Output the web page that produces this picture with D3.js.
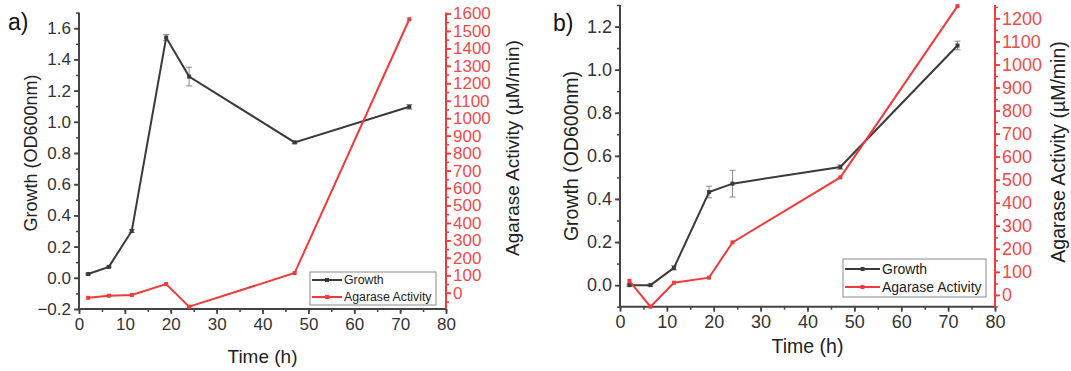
<!DOCTYPE html>
<html><head><meta charset="utf-8">
<script src="https://cdn.jsdelivr.net/npm/d3@7"></script>
<style>
html,body{margin:0;padding:0;background:#fff;}
svg text{font-family:"Liberation Sans",Arial,sans-serif;}
</style></head>
<body>
<svg id="chart" width="1071" height="371"></svg>
<script>
// ---- data ----
const timeA = [2, 6.5, 11.5, 19, 24, 47, 72];
const growthA = [0.024, 0.07, 0.30, 1.54, 1.29, 0.868, 1.096];
const growthErrA = [0.005, 0.005, 0.01, 0.02, 0.06, 0.008, 0.015];
const activityA = [-29, -17, -13, 50, -80, 113, 1567];

const timeB = [2, 6.5, 11.5, 19, 24, 47, 72];
const growthB = [0, 0, 0.08, 0.432, 0.471, 0.548, 1.112];
const growthErrB = [0.005, 0.005, 0.01, 0.027, 0.062, 0.01, 0.02];
const activityB = [61, -51, 53, 75, 228, 510, 1253];

const xTicks = [0, 10, 20, 30, 40, 50, 60, 70, 80];
const leftTicksA = [-0.2, 0, 0.2, 0.4, 0.6, 0.8, 1.0, 1.2, 1.4, 1.6];
const rightTicksA = d3.range(0, 1601, 100);
const leftTicksB = [0, 0.2, 0.4, 0.6, 0.8, 1.0, 1.2];
const rightTicksB = d3.range(0, 1201, 100);
const seriesNames = ["Growth", "Agarase Activity"];

const DARK = "#3a3a3a", RED = "#f23a3a", REDTXT = "#ef4b4b", AXIS = "#444";
const svg = d3.select("#chart");

function panel(o) {
  const g = svg.append("g");
  const x = d3.scaleLinear().domain([0, 80]).range([o.x0, o.x1]);
  const yL = d3.scaleLinear().domain(o.yLdom).range([o.yb, o.yt]);
  const yR = d3.scaleLinear().domain(o.yRdom).range([o.yb, o.yt]);

  // x axis
  const xa = g.append("g").attr("transform", `translate(0,${o.yb})`);
  xa.call(d3.axisBottom(x).tickValues(d3.range(0, 81, 5)).tickSize(3).tickFormat(""))
    .call(s => s.select(".domain").remove()).selectAll("line").attr("stroke", AXIS).attr("stroke-width", 1.5);
  xa.append("g").call(d3.axisBottom(x).tickValues(xTicks).tickSize(5).tickPadding(4).tickFormat(d3.format("d")))
    .call(s => { s.select(".domain").remove(); s.selectAll("line").attr("stroke", AXIS).attr("stroke-width", 1.8);
      s.selectAll("text").attr("fill", "#333").attr("font-size", o.tickFs).attr("font-family", "Liberation Sans, Arial"); });
  g.append("line").attr("x1", o.x0).attr("x2", o.x1).attr("y1", o.yb).attr("y2", o.yb).attr("stroke", AXIS).attr("stroke-width", 2);

  // left axis
  const la = g.append("g").attr("transform", `translate(${o.x0},0)`);
  la.append("g").call(d3.axisLeft(yL).tickValues(o.leftMinor).tickSize(3).tickFormat(""))
    .call(s => { s.select(".domain").remove(); s.selectAll("line").attr("stroke", AXIS).attr("stroke-width", 1.5); });
  la.append("g").call(d3.axisLeft(yL).tickValues(o.leftTicks).tickSize(5).tickPadding(3).tickFormat(d3.format(".1f")))
    .call(s => { s.select(".domain").remove(); s.selectAll("line").attr("stroke", AXIS).attr("stroke-width", 1.8);
      s.selectAll("text").attr("fill", "#333").attr("font-size", o.tickFs).attr("font-family", "Liberation Sans, Arial"); });
  g.append("line").attr("x1", o.x0).attr("x2", o.x0).attr("y1", o.yb).attr("y2", o.yt).attr("stroke", AXIS).attr("stroke-width", 2);

  // right axis
  const ra = g.append("g").attr("transform", `translate(${o.x1},0)`);
  ra.append("g").call(d3.axisRight(yR).tickValues(o.rightMinor).tickSize(3).tickFormat(""))
    .call(s => { s.select(".domain").remove(); s.selectAll("line").attr("stroke", RED).attr("stroke-width", 1.5); });
  ra.append("g").call(d3.axisRight(yR).tickValues(o.rightTicks).tickSize(5).tickPadding(2).tickFormat(d3.format("d")))
    .call(s => { s.select(".domain").remove(); s.selectAll("line").attr("stroke", RED).attr("stroke-width", 1.8);
      s.selectAll("text").attr("fill", REDTXT).attr("font-size", o.tickFs).attr("font-family", "Liberation Sans, Arial"); });
  g.append("line").attr("x1", o.x1).attr("x2", o.x1).attr("y1", o.yb).attr("y2", o.yt).attr("stroke", RED).attr("stroke-width", 2);

  // axis titles
  g.append("text").attr("x", (o.x0 + o.x1) / 2).attr("y", o.xTitleY).attr("text-anchor", "middle")
    .attr("font-size", o.titleFs).attr("fill", "#222").text("Time (h)");
  g.append("text").attr("transform", `translate(${o.lTitleX},${o.lTitleY}) rotate(-90)`).attr("text-anchor", "middle")
    .attr("font-size", o.lTitleFs).attr("fill", "#222").text("Growth (OD600nm)");
  g.append("text").attr("transform", `translate(${o.rTitleX},${o.rTitleY}) rotate(-90)`).attr("text-anchor", "middle")
    .attr("font-size", o.rTitleFs).attr("fill", "#222").text("Agarase Activity (µM/min)");

  // panel label
  g.append("text").attr("x", o.labX).attr("y", o.labY).attr("font-family", "Open Sans, Liberation Sans")
    .attr("font-size", 23).attr("fill", "#111").text(o.label);

  // data
  const gd = o.time.map((t, i) => ({ t, v: o.growth[i], e: o.err[i] }));
  const ad = o.time.map((t, i) => ({ t, v: o.activity[i] }));

  // error bars
  const eb = g.append("g").attr("stroke", "#8a8a8a").attr("stroke-width", 1);
  gd.forEach(d => {
    const xx = x(d.t), y1 = yL(d.v - d.e), y2 = yL(d.v + d.e);
    eb.append("line").attr("x1", xx).attr("x2", xx).attr("y1", y1).attr("y2", y2);
    eb.append("line").attr("x1", xx - 3).attr("x2", xx + 3).attr("y1", y1).attr("y2", y1);
    eb.append("line").attr("x1", xx - 3).attr("x2", xx + 3).attr("y1", y2).attr("y2", y2);
  });

  g.append("path").datum(gd).attr("fill", "none").attr("stroke", DARK).attr("stroke-width", 2)
    .attr("d", d3.line().x(d => x(d.t)).y(d => yL(d.v)));
  g.selectAll(".mg" + o.label[0]).data(gd).enter().append("rect")
    .attr("x", d => x(d.t) - 2).attr("y", d => yL(d.v) - 2).attr("width", 4).attr("height", 4).attr("fill", DARK);

  g.append("path").datum(ad).attr("fill", "none").attr("stroke", RED).attr("stroke-width", 2)
    .attr("d", d3.line().x(d => x(d.t)).y(d => yR(d.v)));
  g.selectAll(".ma" + o.label[0]).data(ad).enter().append("rect")
    .attr("x", d => x(d.t) - 2).attr("y", d => yR(d.v) - 2).attr("width", 4).attr("height", 4).attr("fill", RED);

  // legend
  const L = o.leg;
  g.append("rect").attr("x", L.x).attr("y", L.y).attr("width", L.w).attr("height", L.h)
    .attr("fill", "#fff").attr("stroke", "#8a8a8a").attr("stroke-width", 1);
  [DARK, RED].forEach((c, i) => {
    const yy = L.y + L.rows[i];
    g.append("line").attr("x1", L.x + 2).attr("x2", L.x + 2 + L.lw).attr("y1", yy).attr("y2", yy)
      .attr("stroke", c).attr("stroke-width", 2);
    g.append("rect").attr("x", L.x + 2 + L.lw / 2 - 2).attr("y", yy - 2).attr("width", 4).attr("height", 4).attr("fill", c);
    g.append("text").attr("x", L.x + L.lw + 4).attr("y", yy).attr("dy", "0.35em")
      .attr("font-size", L.fs).attr("fill", "#222").text(seriesNames[i]);
  });
}

panel({
  label: "a)", labX: 8, labY: 30,
  x0: 79, x1: 446, yb: 309, yt: 12.6,
  yLdom: [-0.2, 1.7], yRdom: [-93, 1605],
  leftTicks: leftTicksA, leftMinor: d3.range(-0.2, 1.71, 0.1).map(v => +v.toFixed(1)),
  rightTicks: rightTicksA, rightMinor: d3.range(-50, 1601, 50),
  tickFs: 17, titleFs: 19, lTitleFs: 18, rTitleFs: 19,
  xTitleY: 363, lTitleX: 37, lTitleY: 153, rTitleX: 519, rTitleY: 148,
  time: timeA, growth: growthA, err: growthErrA, activity: activityA,
  leg: { x: 310, y: 272, w: 126, h: 33, rows: [8, 25], lw: 30, fs: 12.3 }
});

panel({
  label: "b)", labX: 553, labY: 31,
  x0: 620, x1: 995, yb: 306.7, yt: 5,
  yLdom: [-0.1, 1.3], yRdom: [-51, 1258],
  leftTicks: leftTicksB, leftMinor: d3.range(-0.1, 1.31, 0.1).map(v => +v.toFixed(1)),
  rightTicks: rightTicksB, rightMinor: d3.range(-50, 1251, 50),
  tickFs: 18, titleFs: 19.5, lTitleFs: 19.5, rTitleFs: 19.5,
  xTitleY: 353, lTitleX: 578, lTitleY: 156, rTitleX: 1065, rTitleY: 152,
  time: timeB, growth: growthB, err: growthErrB, activity: activityB,
  leg: { x: 843, y: 259, w: 143, h: 38, rows: [10, 28], lw: 35, fs: 14 }
});
</script>
</body></html>
